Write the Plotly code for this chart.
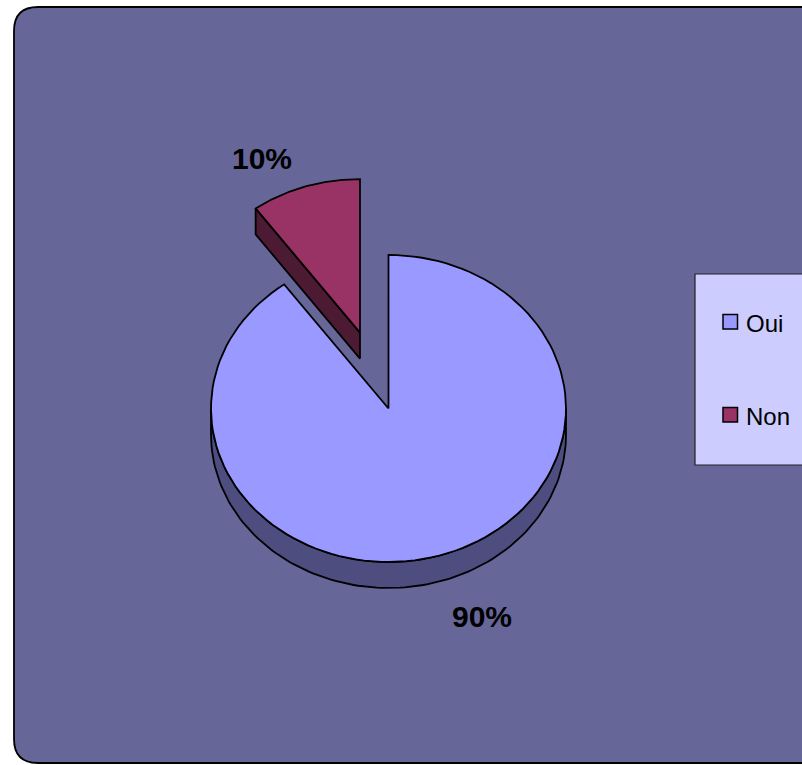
import numpy as np
import plotly.graph_objects as go

# ---- data ----
categories = ["Oui", "Non"]
values = [90, 10]
percent_labels = ["90%", "10%"]
top_colors = ["#9999FF", "#993366"]
side_colors = ["#4D4D80", "#4D1A33"]
pulls = [0.0, 0.52]

# ---- geometry / style ----
W, H = 802, 765
cx, cy = 388.5, 408.5
rx, ry = 177.5, 153.5
depth = 26
FONT = "Liberation Sans, Arial, sans-serif"
LINE = dict(color="black", width=1.8)


def pt(a_deg, ox, oy, dz=0.0):
    a = np.radians(a_deg)
    return ox + rx * np.cos(a), oy - ry * np.sin(a) + dz


def arc(a0, a1, ox, oy, dz=0.0, n=120):
    angs = np.linspace(a0, a1, n)
    xs, ys = pt(angs, ox, oy, dz)
    return list(xs), list(ys)


total = float(sum(values))
slices = []
start = 90.0
for i, v in enumerate(values):
    end = start - 360.0 * v / total
    mid = (start + end) / 2.0
    ox = cx + pulls[i] * rx * np.cos(np.radians(mid))
    oy = cy - pulls[i] * ry * np.sin(np.radians(mid))
    slices.append(dict(i=i, s=start, e=end, ox=ox, oy=oy))
    start = end

fig = go.Figure()

order = sorted(slices, key=lambda d: d["oy"])
for sl in order:
    i, s, e, ox, oy = sl["i"], sl["s"], sl["e"], sl["ox"], sl["oy"]
    if np.cos(np.radians(s)) < -1e-6:
        px, py = pt(s, ox, oy)
        xs = [ox, px, px, ox, ox]
        ys = [oy, py, py + depth, oy + depth, oy]
        fig.add_trace(go.Scatter(x=xs, y=ys, mode="lines", fill="toself",
                                 fillcolor=side_colors[i], line=LINE,
                                 hoverinfo="skip", showlegend=False))
    if np.cos(np.radians(e)) > 1e-6:
        px, py = pt(e, ox, oy)
        xs = [ox, px, px, ox, ox]
        ys = [oy, py, py + depth, oy + depth, oy]
        fig.add_trace(go.Scatter(x=xs, y=ys, mode="lines", fill="toself",
                                 fillcolor=side_colors[i], line=LINE,
                                 hoverinfo="skip", showlegend=False))
    lo = max(e, -180.0)
    hi = min(s, 0.0)
    if hi > lo:
        tx, ty = arc(hi, lo, ox, oy)
        bx, by = arc(lo, hi, ox, oy, depth)
        fig.add_trace(go.Scatter(x=tx + bx + [tx[0]], y=ty + by + [ty[0]],
                                 mode="lines", fill="toself",
                                 fillcolor=side_colors[i], line=LINE,
                                 hoverinfo="skip", showlegend=False))
    ax, ay = arc(s, e, ox, oy)
    fig.add_trace(go.Scatter(x=[ox] + ax + [ox], y=[oy] + ay + [oy],
                             mode="lines", fill="toself",
                             fillcolor=top_colors[i], line=LINE,
                             name=categories[i], hoverinfo="name",
                             showlegend=False))

shapes = []
r = 24
x0, y0, x1, y1 = 14, 7, 840, 763
shapes.append(dict(
    type="path", xref="x", yref="y", layer="below",
    path=(f"M {x0},{y0 + r} Q {x0},{y0} {x0 + r},{y0} L {x1},{y0} "
          f"L {x1},{y1} L {x0 + r},{y1} Q {x0},{y1} {x0},{y1 - r} Z"),
    fillcolor="#666699", line=dict(color="black", width=1.8)))

shapes.append(dict(type="rect", xref="x", yref="y", layer="below",
                   x0=695, y0=274, x1=840, y1=465,
                   fillcolor="#CCCCFF", line=dict(color="#222222", width=1.2)))
legend_y = [322, 415]
annotations = []
for k, name in enumerate(categories):
    yy = legend_y[k]
    shapes.append(dict(type="rect", xref="x", yref="y", layer="above",
                       x0=723, x1=737.5, y0=yy - 7.5, y1=yy + 7,
                       fillcolor=top_colors[k],
                       line=dict(color="black", width=1.5)))
    annotations.append(dict(x=744, y=yy + 1, xref="x", yref="y", text=name,
                            showarrow=False, xanchor="left", yanchor="middle",
                            font=dict(family=FONT, size=24, color="black")))

label_pos = [(482, 616), (262, 158)]
for k, txt in enumerate(percent_labels):
    annotations.append(dict(x=label_pos[k][0], y=label_pos[k][1], xref="x",
                            yref="y", text=f"<b>{txt}</b>", showarrow=False,
                            xanchor="center", yanchor="middle",
                            font=dict(family=FONT, size=30, color="black")))

fig.update_layout(
    width=W, height=H,
    margin=dict(l=0, r=0, t=0, b=0),
    paper_bgcolor="white", plot_bgcolor="white",
    xaxis=dict(range=[0, W], visible=False, fixedrange=True),
    yaxis=dict(range=[H, 0], visible=False, fixedrange=True),
    shapes=shapes, annotations=annotations,
    showlegend=False,
)

fig.write_html(
    "out.html",
    config={"displayModeBar": False, "staticPlot": True},
    post_script="document.body.style.margin='0px';"
                "document.body.style.overflow='hidden';",
)
